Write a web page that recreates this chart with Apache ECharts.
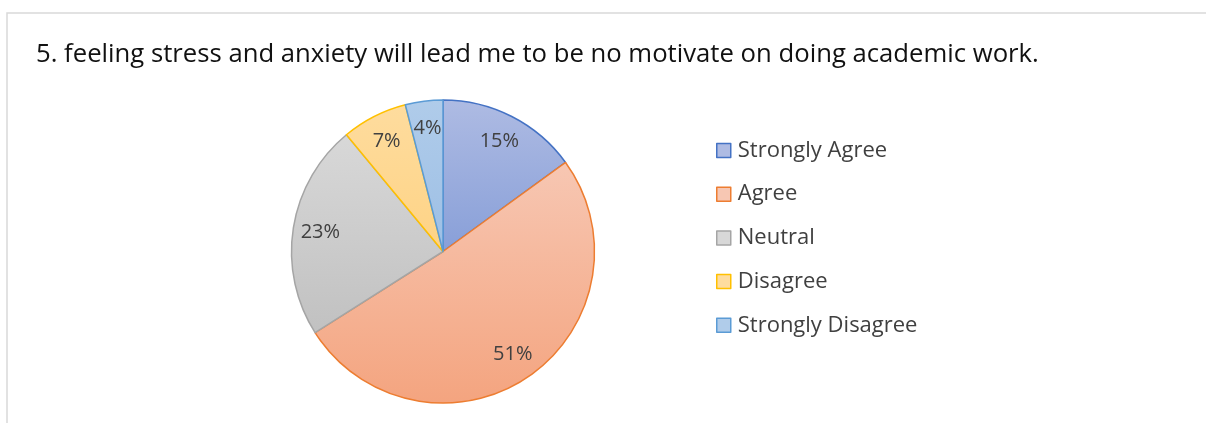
<!DOCTYPE html>
<html>
<head>
<meta charset="utf-8">
<script src="https://cdn.jsdelivr.net/npm/echarts@6/dist/echarts.min.js"></script>
<style>
  html, body { margin: 0; padding: 0; background: #fff; }
  #chart { width: 1206px; height: 423px; }
</style>
</head>
<body>
<div id="chart"></div>
<script>
// Survey answers for statement 5 (percent of respondents)
const titleText = '5. feeling stress and anxiety will lead me to be no motivate on doing academic work.';
const categories = ['Strongly Agree', 'Agree', 'Neutral', 'Disagree', 'Strongly Disagree'];
const percents = [15, 51, 23, 7, 4];

// Per-slice look: outline colour, gradient top, gradient bottom
const outlineColors = ['#4472C4', '#ED7D31', '#A5A5A5', '#FFC000', '#5B9BD5'];
const fillTop = ['#AEBBE3', '#F7C7B3', '#D8D8D8', '#FEDC9E', '#B0CCEA'];
const fillBottom = ['#889FD8', '#F4A47F', '#C1C1C1', '#FED385', '#9DBFE5'];

const FONT = '"Open Sans", "Noto Sans", sans-serif';
const CX = 443, CY = 251.5, R = 151.5;

function gradient(i) {
  return new echarts.graphic.LinearGradient(0, 0, 0, 1, [
    { offset: 0, color: fillTop[i] },
    { offset: 1, color: fillBottom[i] }
  ]);
}

const sliceData = categories.map((name, i) => ({
  name,
  value: percents[i],
  itemStyle: { color: gradient(i), borderColor: outlineColors[i], borderWidth: 1.5 }
}));

const labelData = categories.map((name, i) => ({ name, value: percents[i] }));

const chart = echarts.init(document.getElementById('chart'), null, { renderer: 'canvas' });

chart.setOption({
  animation: false,
  backgroundColor: '#ffffff',
  graphic: [{
    type: 'rect',
    shape: { x: 7, y: 13, width: 1400, height: 600 },
    style: { fill: 'none', stroke: '#D9D9D9', lineWidth: 1.5 },
    silent: true,
    z: 0
  }],
  title: {
    text: titleText,
    left: 31,
    top: 37,
    textStyle: { fontFamily: FONT, fontSize: 25.7, fontWeight: 'normal', color: '#111111' }
  },
  legend: {
    orient: 'vertical',
    left: 716,
    top: 139.5,
    padding: 0,
    icon: 'rect',
    itemWidth: 14,
    itemHeight: 14,
    itemGap: 21.7,
    selectedMode: false,
    textStyle: { fontFamily: FONT, fontSize: 22, color: '#404040', padding: [0, 0, 0, 2] },
    data: categories.map((name, i) => ({
      name,
      itemStyle: { color: fillTop[i], borderColor: outlineColors[i], borderWidth: 1.5 }
    }))
  },
  series: [
    {
      // the pie itself
      type: 'pie',
      center: [CX, CY],
      radius: R,
      startAngle: 90,
      clockwise: true,
      silent: true,
      label: { show: false },
      labelLine: { show: false },
      data: sliceData,
      z: 2
    },
    {
      // percentage labels placed towards the rim of each slice
      type: 'pie',
      center: [CX, CY],
      radius: [R * 0.6, R],
      startAngle: 90,
      clockwise: true,
      silent: true,
      itemStyle: { color: 'rgba(0,0,0,0)', borderWidth: 0 },
      label: {
        show: true,
        position: 'inside',
        formatter: p => p.value + '%',
        fontFamily: FONT,
        fontSize: 20,
        color: '#404040'
      },
      labelLine: { show: false },
      data: labelData,
      z: 3
    }
  ]
});
</script>
</body>
</html>
